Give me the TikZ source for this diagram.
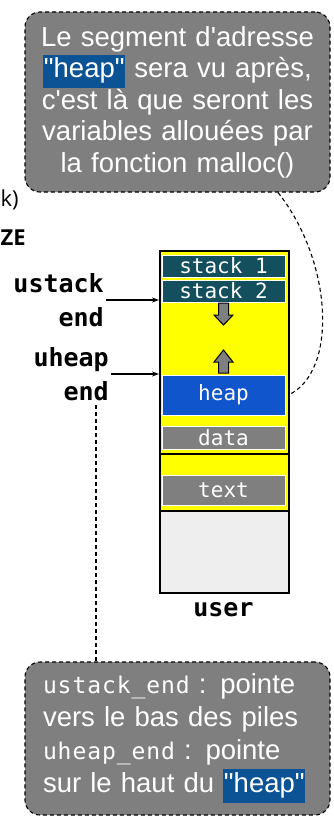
\documentclass[tikz,border=0pt]{standalone}
\usepackage{fontspec}
\setmainfont{Liberation Sans}
\newfontfamily\notesans{Liberation Sans}
\newfontfamily\segfont{DejaVu Sans Mono}
\newfontfamily\notemono{DejaVu Sans Mono}[LetterSpace=4]
\newfontfamily\labfont{DejaVu Sans Mono}
\newfontfamily\edgefont{Open Sans}
\usetikzlibrary{arrows.meta}
\definecolor{stackteal}{HTML}{134F5C}
\definecolor{heapblue}{HTML}{1155CC}
\definecolor{hlblue}{HTML}{0B5394}
\definecolor{boxgray}{HTML}{7F7F7F}
\definecolor{memyellow}{HTML}{FFFF00}
\definecolor{freegray}{HTML}{EEEEEE}
\newcommand\hlword[1]{{\setlength{\fboxsep}{0.6pt}\colorbox{hlblue}{\strut#1}}}
\tikzset{
  seg/.style={draw=black, line width=1.5pt, inner sep=0pt, anchor=north west},
  cell/.style={draw=white, line width=0.8pt, inner sep=0pt, minimum width=123pt,
    text=white, font=\segfont\fontsize{21}{22}\selectfont},
  lab/.style={inner sep=0pt, align=right, font=\labfont\bfseries\fontsize{25}{34}\selectfont},
  callout/.style={draw=black, fill=boxgray, line width=1.1pt, dash pattern=on 4pt off 3pt,
    rounded corners=15pt, text=white, inner sep=0pt, minimum width=305pt},
  notelink/.style={draw=black, line width=1.1pt, dash pattern=on 4pt off 3pt},
  pointer/.style={draw=black, line width=1.1pt, -{Stealth[length=7pt,width=5pt]}},
  blockarrow/.style={draw=black, fill=boxgray, line width=1pt, line join=miter}
}
\begin{document}
\begin{tikzpicture}[x=1pt, y={(0pt,-1pt)}]
\useasboundingbox (0,0) rectangle (334,816);

% text at the left edge
\node[inner sep=0pt, anchor=base west, font=\edgefont\fontsize{22}{24}\selectfont] (edgeA) at (0.5,206) {k)};
\node[inner sep=0pt, anchor=base west, font=\edgefont\bfseries\fontsize{22}{24}\selectfont] (edgeB) at (0.5,245) {ZE};

% memory segments of the user space
\node[seg, fill=memyellow, minimum width=129pt, minimum height=203pt] (topseg) at (159,250) {};
\node[seg, fill=memyellow, minimum width=129pt, minimum height=57pt] (txtseg) at (159,453) {};
\node[seg, fill=freegray, minimum width=129pt, minimum height=82pt] (restseg) at (159,510) {};

\node[cell, fill=stackteal, minimum height=22pt] (stack1) at (223.5,266) {stack 1};
\node[cell, fill=stackteal, minimum height=22pt] (stack2) at (223.5,291) {stack 2};
\node[cell, fill=heapblue, minimum height=40pt] (heap) at (223.5,395) {heap};
\node[cell, fill=boxgray, minimum height=23pt] (data) at (223.5,437.5) {data};
\node[cell, fill=boxgray, minimum height=30pt] (text) at (223.5,490) {text};

% growth directions
\draw[blockarrow] (218.5,303) -- (228.5,303) -- (228.5,315) -- (233,315) -- (223.5,325)
  -- (214,315) -- (218.5,315) -- cycle;
\draw[blockarrow] (223.5,350) -- (233,362) -- (228.5,362) -- (228.5,373) -- (218.5,373)
  -- (218.5,362) -- (214,362) -- cycle;

\node[inner sep=0pt, font=\labfont\bfseries\fontsize{25}{30}\selectfont] (user) at (223.5,610) {user};

% pointers
\node[lab, anchor=east] (ustk) at (104,300) {ustack\\end};
\node[lab, anchor=east] (uhp) at (109,374) {uheap\\end};
\draw[pointer] ([xshift=2pt]ustk.east) -- (ustk.east -| topseg.west);
\draw[pointer] ([xshift=2pt]uhp.east) -- (uhp.east -| topseg.west);

% notes
\node[callout, minimum height=180pt, text width=295pt, align=center,
  font=\notesans\fontsize{27.5}{31.5}\selectfont] (noteA) at (177.5,102)
  {Le segment d'adresse\\ \hlword{"heap"} sera vu après,\\ c'est là que seront les\\ variables allouées par\\ la fonction malloc()};
\node[callout, minimum height=153pt, text width=269pt, inner xsep=18pt, align=left,
  font=\notesans\fontsize{27.5}{33}\selectfont] (noteB) at (177.5,738.5)
  {{\notemono\fontsize{23}{33}\selectfont ustack\_end} : pointe\\ vers le bas des piles\\ {\notemono\fontsize{23}{33}\selectfont uheap\_end} : pointe\\ sur le haut du \hlword{"heap"}};

\draw[notelink] (noteA.-42) .. controls (333,262) and (338,372) .. ([xshift=3pt]heap.east);
\coordinate (uhpfoot) at (96,405);
\draw[notelink] (uhpfoot) -- (uhpfoot |- noteB.north);
\end{tikzpicture}
\end{document}
